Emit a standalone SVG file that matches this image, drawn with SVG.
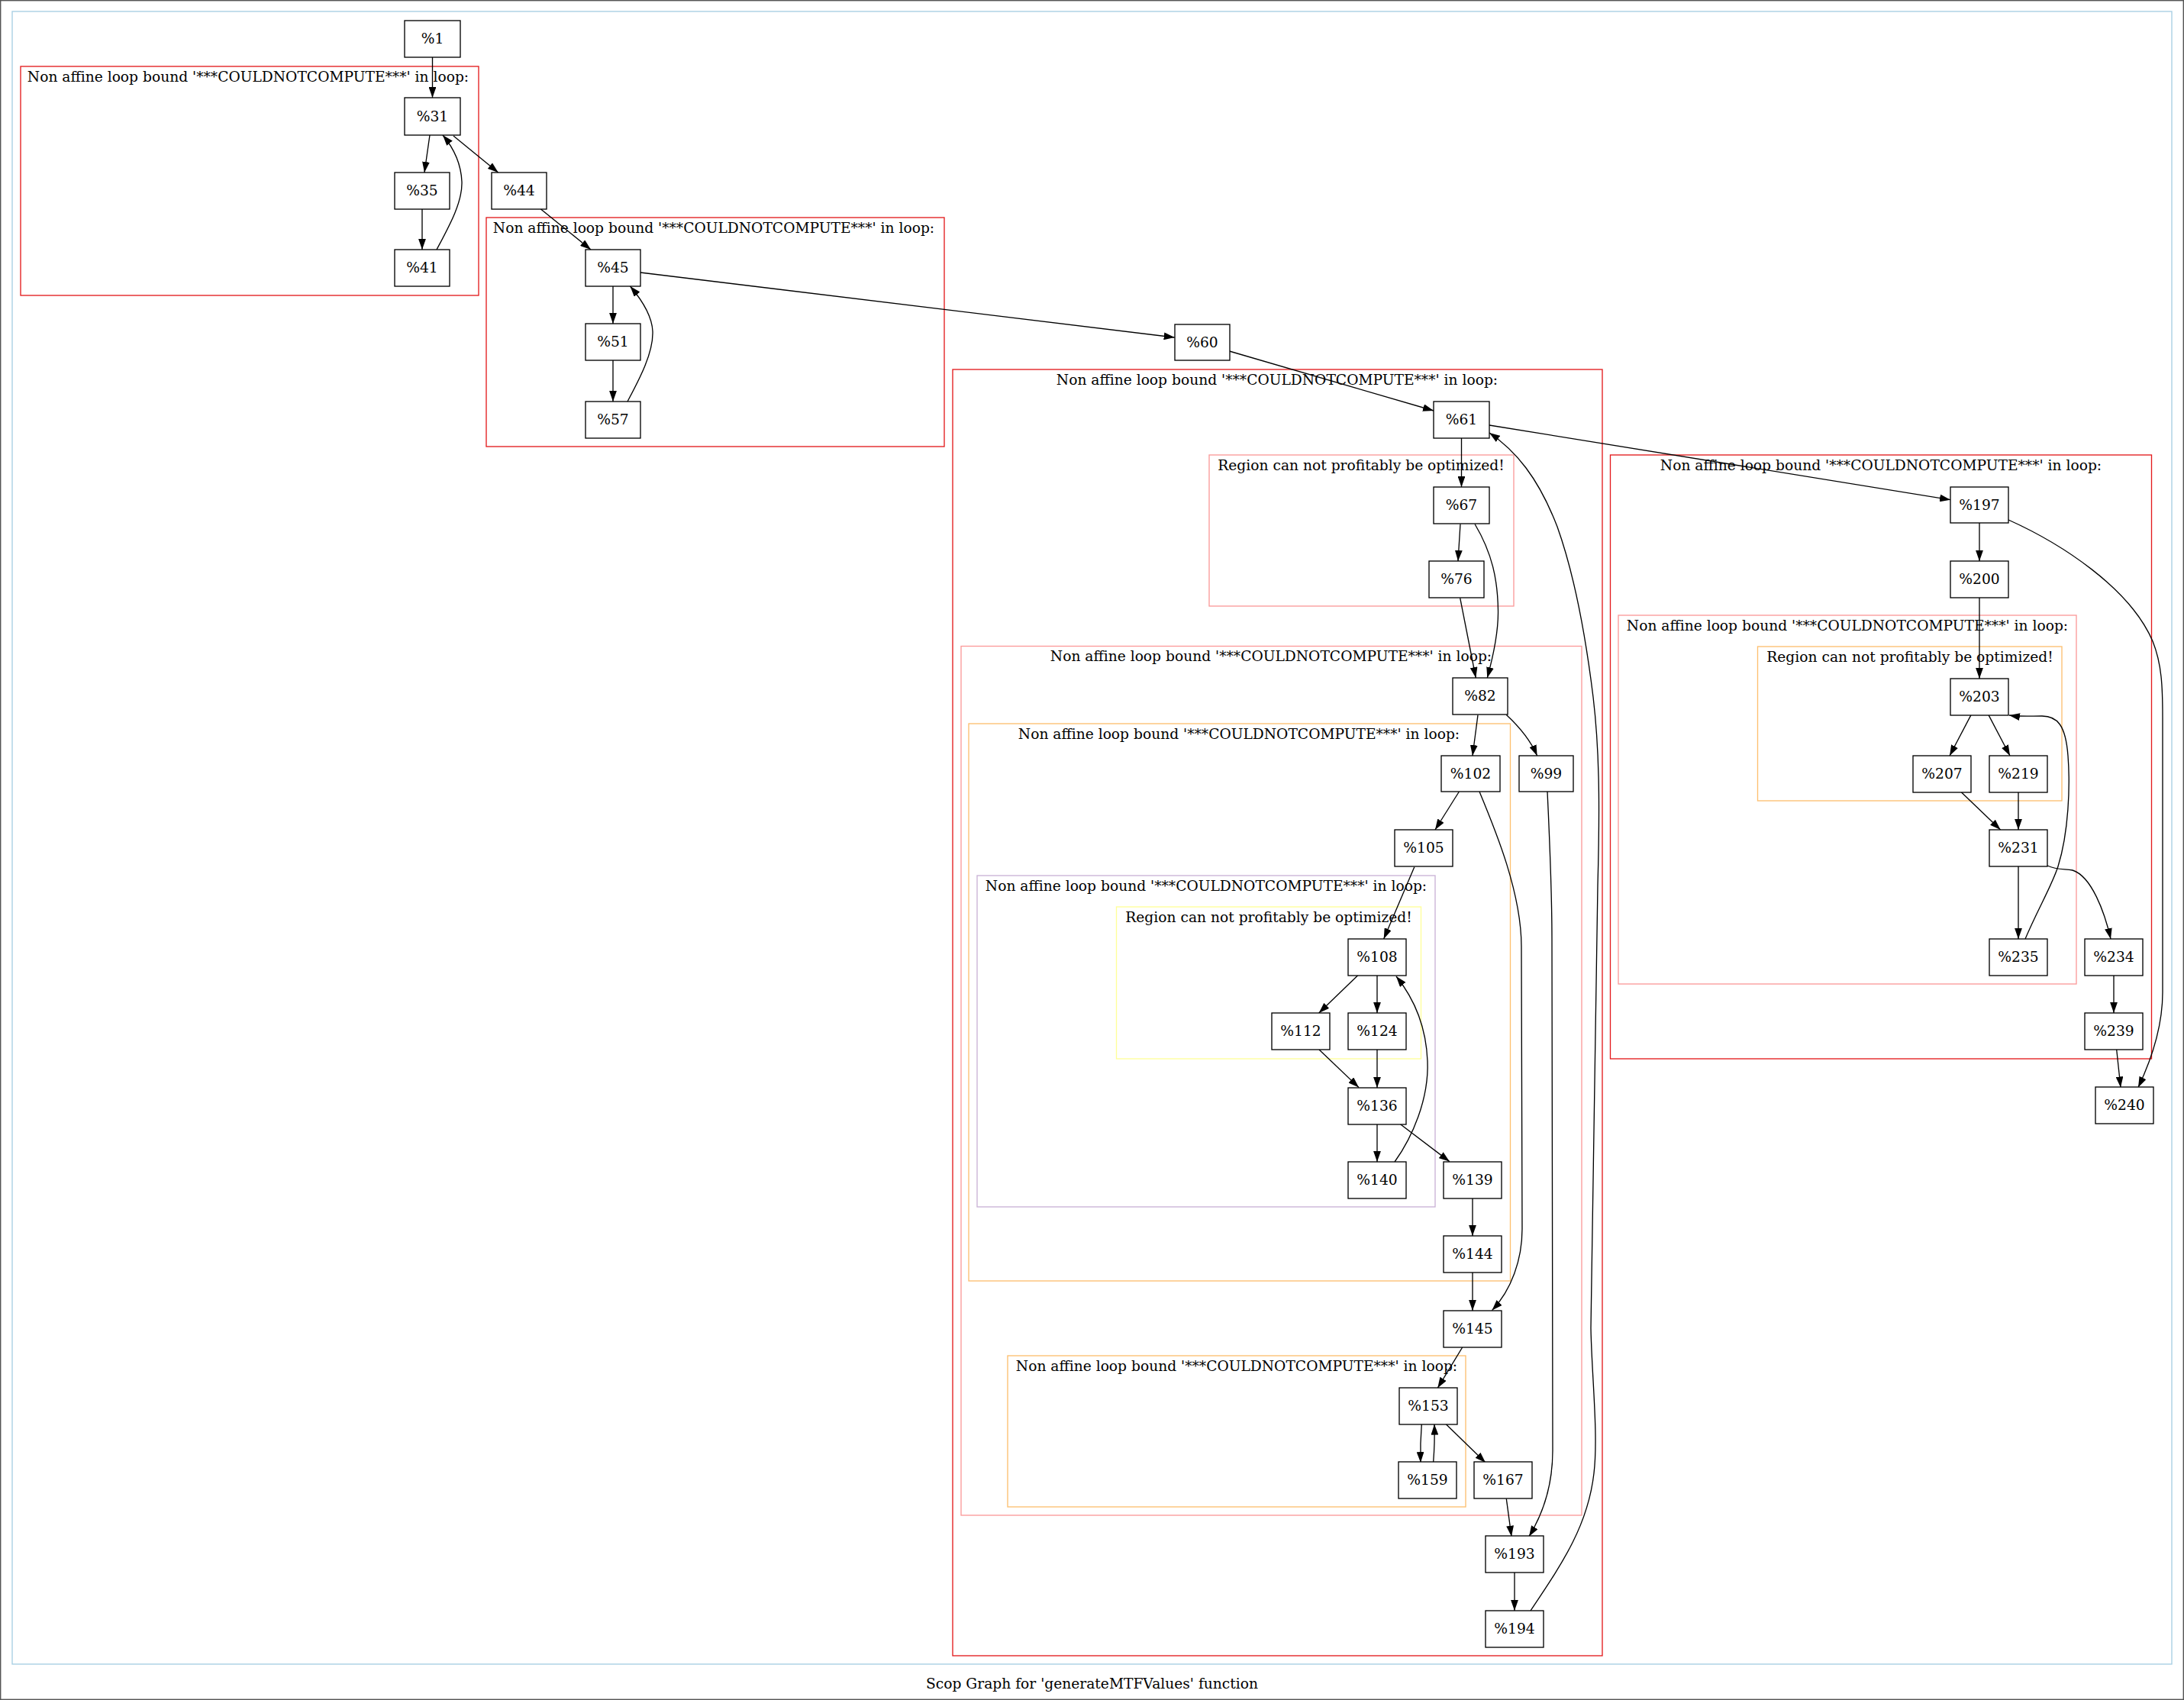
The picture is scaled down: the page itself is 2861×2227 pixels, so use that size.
<svg xmlns="http://www.w3.org/2000/svg" width="2861" height="2227" viewBox="0 0 2861 2227">
<style>
.cl{fill:none;stroke-width:1.33}
.lab{font-family:"DejaVu Serif","Liberation Serif",serif;font-size:18.67px;fill:#000;text-anchor:middle}
.nd rect{fill:#fff;stroke:#000;stroke-width:1.33}
.e{fill:none;stroke:#000;stroke-width:1.33;marker-end:url(#ah)}
.red{stroke:#e31a1c}.pink{stroke:#fb9a99}.org{stroke:#fdbf6f}.pur{stroke:#cab2d6}.yel{stroke:#ffff99}.blu{stroke:#a6cee3}
</style>
<defs>
<marker id="ah" viewBox="0 0 10 7" refX="10" refY="3.5" markerWidth="14" markerHeight="9.8" markerUnits="userSpaceOnUse" orient="auto">
<path d="M0,0 L10,3.5 L0,7 z" fill="#000"/>
</marker>
</defs>
<rect x="0" y="0" width="2861" height="2227" fill="#fff"/>
<rect x="0.7" y="0.7" width="2859.6" height="2225.6" fill="none" stroke="#555" stroke-width="1.4"/>
<g id="clusters">
<rect class="cl blu" x="16" y="15" width="2829" height="2165"/>
<text class="lab" x="1430.5" y="2212">Scop Graph for 'generateMTFValues' function</text>
<g id="cluster1"><rect class="cl red" x="27" y="87" width="600" height="300"/><text class="lab" x="325" y="107">Non affine loop bound '***COULDNOTCOMPUTE***' in loop:</text></g>
<g id="cluster2"><rect class="cl red" x="637" y="285" width="600" height="300"/><text class="lab" x="935" y="305">Non affine loop bound '***COULDNOTCOMPUTE***' in loop:</text></g>
<g id="cluster3"><rect class="cl red" x="1248" y="484" width="851" height="1685"/><text class="lab" x="1673" y="504">Non affine loop bound '***COULDNOTCOMPUTE***' in loop:</text></g>
<g id="cluster3a"><rect class="cl pink" x="1584" y="596" width="399" height="198"/><text class="lab" x="1783" y="616">Region can not profitably be optimized!</text></g>
<g id="cluster3b"><rect class="cl pink" x="1259" y="846.5" width="813" height="1138.5"/><text class="lab" x="1665" y="866">Non affine loop bound '***COULDNOTCOMPUTE***' in loop:</text></g>
<g id="cluster3b1"><rect class="cl org" x="1269" y="948" width="709.5" height="730"/><text class="lab" x="1623" y="968">Non affine loop bound '***COULDNOTCOMPUTE***' in loop:</text></g>
<g id="cluster3b1a"><rect class="cl pur" x="1280" y="1147" width="600" height="434"/><text class="lab" x="1580" y="1167">Non affine loop bound '***COULDNOTCOMPUTE***' in loop:</text></g>
<g id="cluster3b1a1"><rect class="cl yel" x="1462.5" y="1188" width="399" height="199"/><text class="lab" x="1662" y="1208">Region can not profitably be optimized!</text></g>
<g id="cluster3b2"><rect class="cl org" x="1320" y="1776" width="600" height="198"/><text class="lab" x="1620" y="1796">Non affine loop bound '***COULDNOTCOMPUTE***' in loop:</text></g>
<g id="cluster4"><rect class="cl red" x="2109.5" y="596" width="709" height="791"/><text class="lab" x="2464" y="616">Non affine loop bound '***COULDNOTCOMPUTE***' in loop:</text></g>
<g id="cluster4a"><rect class="cl pink" x="2120" y="806" width="600" height="483"/><text class="lab" x="2420" y="826">Non affine loop bound '***COULDNOTCOMPUTE***' in loop:</text></g>
<g id="cluster4a1"><rect class="cl org" x="2302.5" y="847" width="398.5" height="202"/><text class="lab" x="2502" y="867">Region can not profitably be optimized!</text></g>
</g>
<g id="connectors">
<path class="e" d="M566.5,75 L566.5,128"/>
<path class="e" d="M563,177 L556,226"/>
<path class="e" d="M594,178 L652.7,226"/>
<path class="e" d="M553,274 L553,327"/>
<path class="e" d="M572,327 C588,297 606,265 605,238 C604,216 596,196 580,177"/>
<path class="e" d="M708.5,274 L774,327"/>
<path class="e" d="M803,375 L803,424"/>
<path class="e" d="M839,357 L1538.7,442"/>
<path class="e" d="M803,472 L803,526"/>
<path class="e" d="M822,526 C838,496 856,462 855,434 C854,412 840,392 825.5,375"/>
<path class="e" d="M1610.5,460 L1878,538"/>
<path class="e" d="M1914.5,574 L1914.5,638"/>
<path class="e" d="M1951,557 L2555,654.7"/>
<path class="e" d="M1913,686.5 L1910,735"/>
<path class="e" d="M1932,686.5 C1955,725 1962,760 1962.5,800 C1963,830 1956,860 1948.3,888"/>
<path class="e" d="M1912.7,783.3 L1933.3,888"/>
<path class="e" d="M1936,936.6 L1929,990"/>
<path class="e" d="M1973.4,936.6 C1990,952 2005,970 2013.6,990"/>
<path class="e" d="M1911.4,1037 L1880,1087"/>
<path class="e" d="M1938,1037 C1960,1090 1993,1170 1993,1240 L1994,1610 C1994,1650 1980,1690 1954.5,1716.6"/>
<path class="e" d="M2027,1037 C2030,1100 2033,1170 2033,1230 L2034,1900 C2034,1950 2020,1985 2003,2012.7"/>
<path class="e" d="M1852.8,1135.8 L1812.7,1230"/>
<path class="e" d="M1779,1277.6 L1727.7,1327"/>
<path class="e" d="M1804,1278 L1804,1327"/>
<path class="e" d="M1728,1375 L1780,1424.6"/>
<path class="e" d="M1804,1375 L1804,1425"/>
<path class="e" d="M1804,1473 L1804,1522"/>
<path class="e" d="M1834.5,1472.8 L1898.8,1521.6"/>
<path class="e" d="M1827,1522 C1850,1490 1872,1440 1870,1390 C1868,1340 1850,1305 1829,1279"/>
<path class="e" d="M1929,1570 L1929,1619"/>
<path class="e" d="M1929,1667 L1929,1717"/>
<path class="e" d="M1915.7,1765 L1883.3,1818.3"/>
<path class="e" d="M1862.3,1865.7 C1861,1882 1860.5,1900 1861,1916"/>
<path class="e" d="M1877.7,1915 C1879,1898 1879.5,1882 1879,1865.7"/>
<path class="e" d="M1894.3,1865.7 L1946,1916"/>
<path class="e" d="M1973.3,1963.3 L1980,2012.7"/>
<path class="e" d="M1984,2060 L1984,2110"/>
<path class="e" d="M2005,2110 C2045,2050 2080,2000 2088,1930 C2094,1880 2085,1800 2084,1740 L2093,1160 C2096,1050 2095,980 2087,913 C2078,840 2065,760 2040,690 C2015,625 1985,590 1951,567"/>
<path class="e" d="M2593,685 L2593,735"/>
<path class="e" d="M2631,681 C2700,712 2790,770 2820,840 C2832,870 2833,900 2833,940 L2833,1300 C2833,1350 2815,1395 2801,1424.5"/>
<path class="e" d="M2593,783 L2593,889"/>
<path class="e" d="M2582,936.6 L2554,990"/>
<path class="e" d="M2605,936.6 L2633,990"/>
<path class="e" d="M2569,1037.6 L2620.6,1087"/>
<path class="e" d="M2644,1038 L2644,1087"/>
<path class="e" d="M2644,1135 L2644,1230"/>
<path class="e" d="M2682,1134 C2695,1140 2705,1138 2715,1140 C2740,1148 2757,1195 2765,1230"/>
<path class="e" d="M2653,1230 C2670,1190 2688,1160 2696,1135 C2710,1090 2712,1030 2709,990 C2706,950 2695,938 2675,938 C2660,938 2645,939 2632,937"/>
<path class="e" d="M2769,1278 L2769,1327"/>
<path class="e" d="M2772.7,1375 L2778,1424.5"/>
</g>
<g id="n1" class="nd"><rect x="530" y="27" width="73" height="48"/><text class="lab" x="566.5" y="57">%1</text></g>
<g id="n31" class="nd"><rect x="530" y="128" width="73" height="49"/><text class="lab" x="566.5" y="158.5">%31</text></g>
<g id="n35" class="nd"><rect x="517" y="226" width="72" height="48"/><text class="lab" x="553" y="256">%35</text></g>
<g id="n41" class="nd"><rect x="517" y="327" width="72" height="48"/><text class="lab" x="553" y="357">%41</text></g>
<g id="n44" class="nd"><rect x="644" y="226" width="72" height="48"/><text class="lab" x="680" y="256">%44</text></g>
<g id="n45" class="nd"><rect x="767" y="327" width="72" height="48"/><text class="lab" x="803" y="357">%45</text></g>
<g id="n51" class="nd"><rect x="767" y="424" width="72" height="48"/><text class="lab" x="803" y="454">%51</text></g>
<g id="n57" class="nd"><rect x="767" y="526" width="72" height="48"/><text class="lab" x="803" y="556">%57</text></g>
<g id="n60" class="nd"><rect x="1539" y="425" width="72" height="47"/><text class="lab" x="1575" y="454.5">%60</text></g>
<g id="n61" class="nd"><rect x="1878" y="526" width="73" height="48"/><text class="lab" x="1914.5" y="556">%61</text></g>
<g id="n67" class="nd"><rect x="1878" y="638" width="73" height="48"/><text class="lab" x="1914.5" y="668">%67</text></g>
<g id="n76" class="nd"><rect x="1872" y="735" width="72" height="48"/><text class="lab" x="1908" y="765">%76</text></g>
<g id="n82" class="nd"><rect x="1903" y="888" width="72" height="48"/><text class="lab" x="1939" y="918">%82</text></g>
<g id="n102" class="nd"><rect x="1888" y="990" width="77" height="47"/><text class="lab" x="1926.5" y="1019.5">%102</text></g>
<g id="n99" class="nd"><rect x="1990" y="990" width="71" height="47"/><text class="lab" x="2025.5" y="1019.5">%99</text></g>
<g id="n105" class="nd"><rect x="1827" y="1087" width="76" height="48"/><text class="lab" x="1865" y="1117">%105</text></g>
<g id="n108" class="nd"><rect x="1766" y="1230" width="76" height="48"/><text class="lab" x="1804" y="1260">%108</text></g>
<g id="n112" class="nd"><rect x="1666" y="1327" width="76" height="48"/><text class="lab" x="1704" y="1357">%112</text></g>
<g id="n124" class="nd"><rect x="1766" y="1327" width="76" height="48"/><text class="lab" x="1804" y="1357">%124</text></g>
<g id="n136" class="nd"><rect x="1766" y="1425" width="76" height="48"/><text class="lab" x="1804" y="1455">%136</text></g>
<g id="n140" class="nd"><rect x="1766" y="1522" width="76" height="48"/><text class="lab" x="1804" y="1552">%140</text></g>
<g id="n139" class="nd"><rect x="1891" y="1522" width="76" height="48"/><text class="lab" x="1929" y="1552">%139</text></g>
<g id="n144" class="nd"><rect x="1891" y="1619" width="76" height="48"/><text class="lab" x="1929" y="1649">%144</text></g>
<g id="n145" class="nd"><rect x="1891" y="1717" width="76" height="48"/><text class="lab" x="1929" y="1747">%145</text></g>
<g id="n153" class="nd"><rect x="1833" y="1818" width="76" height="48"/><text class="lab" x="1871" y="1848">%153</text></g>
<g id="n159" class="nd"><rect x="1832" y="1915" width="76" height="48"/><text class="lab" x="1870" y="1945">%159</text></g>
<g id="n167" class="nd"><rect x="1931" y="1915" width="76" height="48"/><text class="lab" x="1969" y="1945">%167</text></g>
<g id="n193" class="nd"><rect x="1946" y="2012" width="76" height="48"/><text class="lab" x="1984" y="2042">%193</text></g>
<g id="n194" class="nd"><rect x="1946" y="2110" width="76" height="48"/><text class="lab" x="1984" y="2140">%194</text></g>
<g id="n197" class="nd"><rect x="2555" y="638" width="76" height="47"/><text class="lab" x="2593" y="667.5">%197</text></g>
<g id="n200" class="nd"><rect x="2555" y="735" width="76" height="48"/><text class="lab" x="2593" y="765">%200</text></g>
<g id="n203" class="nd"><rect x="2555" y="889" width="76" height="48"/><text class="lab" x="2593" y="919">%203</text></g>
<g id="n207" class="nd"><rect x="2506" y="990" width="76" height="48"/><text class="lab" x="2544" y="1020">%207</text></g>
<g id="n219" class="nd"><rect x="2606" y="990" width="76" height="48"/><text class="lab" x="2644" y="1020">%219</text></g>
<g id="n231" class="nd"><rect x="2606" y="1087" width="76" height="48"/><text class="lab" x="2644" y="1117">%231</text></g>
<g id="n235" class="nd"><rect x="2606" y="1230" width="76" height="48"/><text class="lab" x="2644" y="1260">%235</text></g>
<g id="n234" class="nd"><rect x="2731" y="1230" width="76" height="48"/><text class="lab" x="2769" y="1260">%234</text></g>
<g id="n239" class="nd"><rect x="2731" y="1327" width="76" height="48"/><text class="lab" x="2769" y="1357">%239</text></g>
<g id="n240" class="nd"><rect x="2745" y="1424" width="76" height="48"/><text class="lab" x="2783" y="1454">%240</text></g>
</svg>
